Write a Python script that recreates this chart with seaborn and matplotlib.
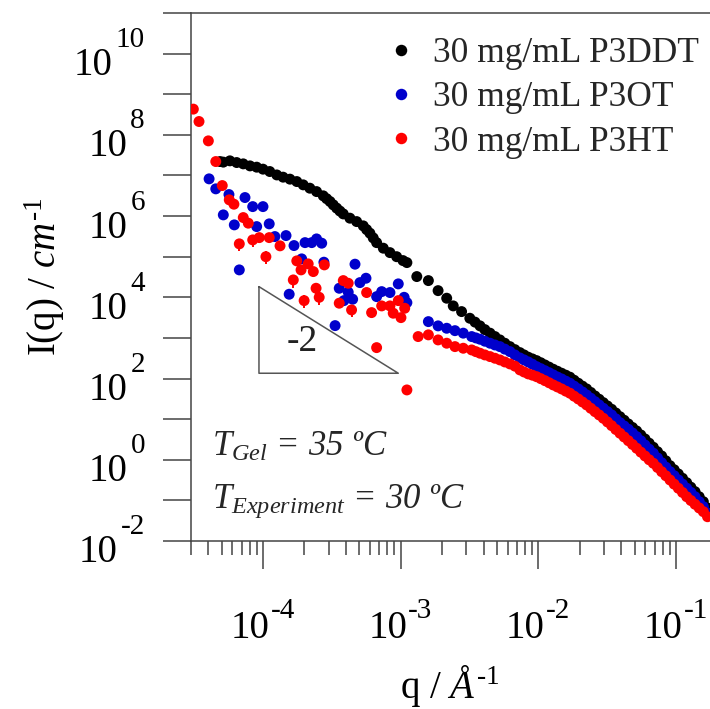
import matplotlib
matplotlib.use("Agg")
import matplotlib.pyplot as plt
import numpy as np
import pandas as pd
import seaborn as sns
from matplotlib.ticker import FixedLocator, LogLocator, NullFormatter, NullLocator
from matplotlib.transforms import offset_copy

# ---------------- data ----------------
samples = ["30 mg/mL P3DDT", "30 mg/mL P3OT", "30 mg/mL P3HT"]
colors = ["#000000", "#0000CC", "#FF0000"]

# low-q (USAXS) part
q_ddt_us = [4.88e-5, 5.15e-5, 5.75e-5, 6.44e-5, 7.19e-5, 8.05e-5, 9.00e-5, 1.00e-4, 1.12e-4, 1.26e-4,
            1.40e-4, 1.57e-4, 1.76e-4, 1.96e-4, 2.19e-4, 2.45e-4, 2.74e-4, 2.90e-4, 3.07e-4, 3.24e-4,
            3.43e-4, 3.62e-4, 3.83e-4, 4.28e-4, 4.79e-4, 5.35e-4, 5.66e-4, 5.98e-4, 6.32e-4, 6.69e-4,
            7.48e-4, 8.36e-4, 9.35e-4, 1.04e-3, 1.11e-3]
I_ddt_us = [2.20e7, 2.13e7, 2.29e7, 2.08e7, 1.93e7, 1.72e7, 1.60e7, 1.43e7, 1.25e7, 1.03e7,
            9.08e6, 8.11e6, 7.08e6, 5.87e6, 4.86e6, 4.01e6, 3.15e6, 2.68e6, 2.28e6, 1.89e6,
            1.57e6, 1.33e6, 1.13e6, 8.88e5, 7.32e5, 5.74e5, 4.65e5, 3.79e5, 2.90e5, 2.22e5,
            1.62e5, 1.26e5, 1.00e5, 8.02e4, 7.16e4]

q_ot_us = [4.06e-5, 4.54e-5, 5.66e-5, 7.40e-5, 5.15e-5, 8.42e-5, 1.00e-4, 6.19e-5, 9.00e-5, 1.11e-4,
           6.73e-5, 1.22e-4, 1.47e-4, 1.68e-4, 2.02e-4, 2.26e-4, 2.45e-4, 2.67e-4, 1.91e-4, 2.77e-4,
           1.55e-4, 4.66e-4, 5.06e-4, 5.60e-4, 3.58e-4, 3.87e-4, 4.16e-4, 4.48e-4, 3.34e-4, 6.69e-4,
           7.28e-4, 8.36e-4, 9.61e-4, 1.06e-3, 1.11e-3]
I_ot_us = [8.25e6, 4.68e6, 3.39e6, 2.86e6, 1.07e6, 1.71e6, 1.71e6, 6.07e5, 5.51e5, 6.43e5,
           4.73e4, 3.13e5, 3.31e5, 1.88e5, 2.22e5, 2.22e5, 2.74e5, 2.15e5, 8.83e4, 7.32e4,
           1.19e4, 6.54e4, 2.30e4, 2.95e4, 1.67e4, 8.29e3, 1.34e4, 8.98e3, 2.01e3, 1.04e4,
           1.38e4, 1.31e4, 2.14e4, 1.00e4, 7.40e3]

q_ht_us = [3.12e-5, 3.43e-5, 4.01e-5, 4.54e-5, 5.06e-5, 5.69e-5, 6.15e-5, 7.19e-5, 7.82e-5, 6.73e-5,
           8.42e-5, 9.40e-5, 1.05e-4, 1.11e-4, 1.33e-4, 1.76e-4, 1.89e-4, 2.13e-4, 2.32e-4, 1.66e-4,
           2.79e-4, 2.43e-4, 1.99e-4, 2.56e-4, 3.83e-4, 4.16e-4, 3.58e-4, 4.40e-4, 5.66e-4, 6.15e-4,
           7.28e-4, 8.36e-4, 9.61e-4, 8.83e-4, 1.005e-3, 1.07e-3, 6.69e-4, 1.11e-3]
I_ht_us = [4.30e8, 2.13e8, 7.11e7, 2.20e7, 5.64e6, 2.51e6, 1.96e6, 9.19e5, 6.69e5, 2.07e5,
           2.59e5, 2.95e5, 1.00e5, 2.95e5, 1.85e5, 7.88e4, 4.73e4, 6.65e4, 4.30e4, 2.68e4,
           6.28e4, 1.67e4, 8.29e3, 1.00e4, 2.58e4, 2.22e4, 7.16e3, 4.89e3, 1.31e4, 4.20e3,
           6.14e3, 6.14e3, 8.29e3, 4.06e3, 3.16e3, 5.38e3, 577, 52.4]

# P3HT points that carry a visible error bar
q_ht_err = [6.73e-5, 8.42e-5, 1.05e-4, 1.66e-4, 2.43e-4, 1.99e-4, 2.56e-4, 4.40e-4]
I_ht_err = [2.07e5, 2.59e5, 1.00e5, 2.68e4, 1.67e4, 8.29e3, 1.00e4, 4.89e3]
e_ht_err = [7.2e4, 9.0e4, 3.5e4, 9.4e3, 5.8e3, 2.9e3, 3.5e3, 1.7e3]

# intermediate-q (SAXS) part
q_ddt_sa = [1.31e-3, 1.59e-3, 1.87e-3, 2.16e-3, 2.41e-3, 2.77e-3, 3.18e-3, 3.47e-3, 3.77e-3, 4.09e-3,
            4.46e-3, 4.84e-3, 5.26e-3, 5.71e-3, 6.22e-3, 6.76e-3]
I_ddt_sa = [3.24e4, 2.58e4, 1.46e4, 9.50e3, 6.14e3, 4.45e3, 3.05e3, 2.45e3, 1.98e3, 1.60e3,
            1.31e3, 1.08e3, 893, 740, 611, 515]

q_ot_sa = [1.59e-3, 1.87e-3, 2.16e-3, 2.48e-3, 2.85e-3, 3.28e-3, 3.52e-3, 3.77e-3, 4.09e-3, 4.46e-3,
           4.84e-3, 5.26e-3, 5.71e-3, 6.22e-3, 6.76e-3]
I_ot_sa = [2.52e3, 1.98e3, 1.73e3, 1.51e3, 1.31e3, 1.08e3, 1.00e3, 929, 830, 741,
           671, 611, 530, 460, 381]

q_ht_sa = [1.34e-3, 1.59e-3, 1.87e-3, 2.16e-3, 2.48e-3, 2.85e-3, 3.28e-3, 3.52e-3, 3.77e-3, 4.09e-3,
           4.46e-3, 4.84e-3, 5.26e-3, 5.71e-3, 6.22e-3, 6.76e-3]
I_ht_sa = [1.08e3, 1.19e3, 893, 741, 611, 557, 506, 459, 420, 381,
           347, 316, 287, 256, 229, 202]

# high-q part (shared q grid)
q_hi = [7.35e-3, 7.88e-3, 8.45e-3, 9.06e-3, 9.72e-3, 1.042e-2, 1.117e-2, 1.198e-2, 1.284e-2, 1.377e-2,
        1.476e-2, 1.583e-2, 1.697e-2, 1.820e-2, 1.951e-2, 2.092e-2, 2.243e-2, 2.405e-2, 2.579e-2, 2.765e-2,
        2.965e-2, 3.179e-2, 3.408e-2, 3.654e-2, 3.918e-2, 4.201e-2, 4.505e-2, 4.830e-2, 5.179e-2, 5.553e-2,
        5.954e-2, 6.384e-2, 6.845e-2, 7.339e-2, 7.869e-2, 8.437e-2, 9.046e-2, 9.699e-2, 0.1040, 0.1115,
        0.1196, 0.1282, 0.1375, 0.1474, 0.1580, 0.1694]
I_ddt_hi = [435, 381, 335, 304, 276, 245, 216, 191, 169, 151,
            135, 121, 108, 90.8, 76.6, 65.0, 55.5, 45.5, 37.2, 30.9,
            25.5, 21.1, 17.5, 14.2, 11.5, 9.40, 7.62, 6.24, 5.12, 4.08,
            3.25, 2.56, 2.03, 1.58, 1.24, 0.944, 0.716, 0.568, 0.447, 0.350,
            0.273, 0.211, 0.164, 0.123, 0.0929, 0.0650]
I_ot_hi = [321, 287, 256, 225, 196, 175, 156, 139, 123, 109,
           97.7, 86.3, 76.6, 65.0, 55.5, 46.8, 39.4, 32.7, 27.0, 22.4,
           18.5, 15.3, 12.7, 10.2, 8.20, 6.79, 5.64, 4.57, 3.71, 2.94,
           2.31, 1.82, 1.45, 1.11, 0.847, 0.658, 0.509, 0.404, 0.318, 0.251,
           0.199, 0.157, 0.123, 0.0929, 0.0700, 0.0490]
I_ht_hi = [163, 145, 130, 121, 111, 99.3, 88.7, 78.7, 69.5, 62.1,
           55.5, 49.0, 43.5, 36.8, 31.4, 26.5, 22.4, 18.5, 15.3, 12.7,
           10.5, 8.53, 6.92, 5.57, 4.50, 3.64, 2.95, 2.38, 1.92, 1.54,
           1.24, 1.00, 0.820, 0.646, 0.509, 0.404, 0.318, 0.251, 0.199, 0.157,
           0.123, 0.0993, 0.0802, 0.0650, 0.0527, 0.0396]

# slope triangle (annotation) and text
tri_q = [9.35e-5, 9.35e-5, 9.61e-4, 9.35e-5]
tri_I = [1.83e4, 135, 135, 1.83e4]
slope_label = "-2"
slope_pos = (1.92e-4, 796)

x_ticks = [1e-4, 1e-3, 1e-2, 1e-1]
x_exps = ["-4", "-3", "-2", "-1"]
y_ticks = [1e-2, 1e-1, 1e0, 1e1, 1e2, 1e3, 1e4, 1e5, 1e6, 1e7, 1e8, 1e9, 1e10, 1e11]
y_label_ticks = [1e-2, 1e0, 1e2, 1e4, 1e6, 1e8, 1e10]
y_exps = ["-2", "0", "2", "4", "6", "8", "10"]

# ---------------- build table ----------------
parts = [
    (samples[0], q_ddt_us + q_ddt_sa + q_hi, I_ddt_us + I_ddt_sa + I_ddt_hi),
    (samples[1], q_ot_us + q_ot_sa + q_hi, I_ot_us + I_ot_sa + I_ot_hi),
    (samples[2], q_ht_us + q_ht_sa + q_hi, I_ht_us + I_ht_sa + I_ht_hi),
]
df = pd.concat([pd.DataFrame({"q": q, "I": I, "sample": s}) for s, q, I in parts], ignore_index=True)

# ---------------- style ----------------
sns.set_theme(style="ticks")
plt.rcParams["font.family"] = ["Liberation Serif", "DejaVu Serif"]
plt.rcParams["mathtext.fontset"] = "custom"
plt.rcParams["mathtext.rm"] = "Liberation Serif"
plt.rcParams["mathtext.it"] = "Liberation Serif:italic"
plt.rcParams["mathtext.bf"] = "Liberation Serif:bold"
plt.rcParams["axes.unicode_minus"] = False

W, H = 710, 709
fig = plt.figure(figsize=(W / 100, H / 100), dpi=100)
ax = fig.add_axes([191 / W, 1 - 541 / H, (W - 191) / W, (541 - 13) / H])

sns.scatterplot(data=df, x="q", y="I", hue="sample", hue_order=samples,
                palette=colors, s=62, linewidth=0, ax=ax, legend=True, zorder=3)
ax.errorbar(q_ht_err, I_ht_err, yerr=e_ht_err, fmt="none", ecolor="#FF0000",
            elinewidth=1.4, capsize=0, zorder=2)

ax.set_xscale("log")
ax.set_yscale("log")
ax.set_xlim(3.0e-5, 0.1766)
ax.set_ylim(1e-2, 1e11)

spine_c = "#444444"
for side in ["left", "bottom", "top"]:
    ax.spines[side].set_color(spine_c)
    ax.spines[side].set_linewidth(1.1)
ax.spines["right"].set_visible(False)

ax.xaxis.set_major_locator(FixedLocator(x_ticks))
ax.xaxis.set_minor_locator(LogLocator(base=10, subs=np.arange(2, 10), numticks=20))
ax.xaxis.set_minor_formatter(NullFormatter())
ax.yaxis.set_major_locator(FixedLocator(y_ticks))
ax.yaxis.set_minor_locator(NullLocator())

ax.tick_params(axis="x", which="major", direction="out", length=20, width=1.1,
               color=spine_c, top=False, labelbottom=False)
ax.tick_params(axis="x", which="minor", direction="out", length=10, width=1.1,
               color=spine_c, top=False)
ax.tick_params(axis="y", which="major", direction="out", length=20, width=1.1,
               color=spine_c, right=False, labelleft=False)

# tick labels drawn as "10" with a raised exponent, as in the original
pt = 72 / 100
xtr = ax.get_xaxis_transform()
for v, e in zip(x_ticks, x_exps):
    ax.text(v, 0, "10", fontsize=28, ha="right", va="baseline", color="black",
            transform=offset_copy(xtr, fig=fig, x=6.5, y=-97, units="dots"))
    ax.text(v, 0, e, fontsize=21, ha="left", va="baseline", color="black",
            transform=offset_copy(xtr, fig=fig, x=7.5, y=-77, units="dots"))

ytr = ax.get_yaxis_transform()
for v, e in zip(y_label_ticks, y_exps):
    t_exp = ax.text(0, v, e, fontsize=21, ha="right", va="baseline", color="black",
                    transform=offset_copy(ytr, fig=fig, x=-46, y=6.5, units="dots"))
    ax.annotate("10", xy=(0, v), xycoords=(t_exp, ytr), xytext=(-3 * pt, -21.5 * pt),
                textcoords="offset points", ha="right", va="baseline", fontsize=28,
                color="black")

ax.set_xlabel(r"q / $\mathit{\AA}^{\mathit{\text{-}1}}$", fontsize=28, color="black")
ax.set_ylabel(r"I(q) / $\mathit{cm}^{\mathit{\text{-}1}}$", fontsize=28, color="black")
ax.xaxis.set_label_coords(0.5, -0.232)
ax.yaxis.set_label_coords(-0.238, 0.5)

# slope triangle
ax.plot(tri_q, tri_I, color="#555555", lw=1.1, zorder=1)
ax.text(slope_pos[0], slope_pos[1], slope_label, fontsize=27, ha="center", va="center",
        color="#222222")

# temperatures
fig.text(212 / W, 1 - 456 / H, r"$T_{Gel}$ = 35 ºC", fontsize=25, fontstyle="italic",
         ha="left", va="baseline")
fig.text(212 / W, 1 - 508 / H, r"$T_{Experiment}$ = 30 ºC", fontsize=25, fontstyle="italic",
         ha="left", va="baseline")

sns.move_legend(ax, "upper left", bbox_to_anchor=(383 / W, 1 - 37 / H),
                bbox_transform=fig.transFigure, frameon=False, title=None,
                fontsize=25.5, handlelength=1.0, handletextpad=0.42, labelspacing=0.32,
                borderpad=0, borderaxespad=0, markerscale=1.05)

fig.savefig("out.png", dpi=100)
